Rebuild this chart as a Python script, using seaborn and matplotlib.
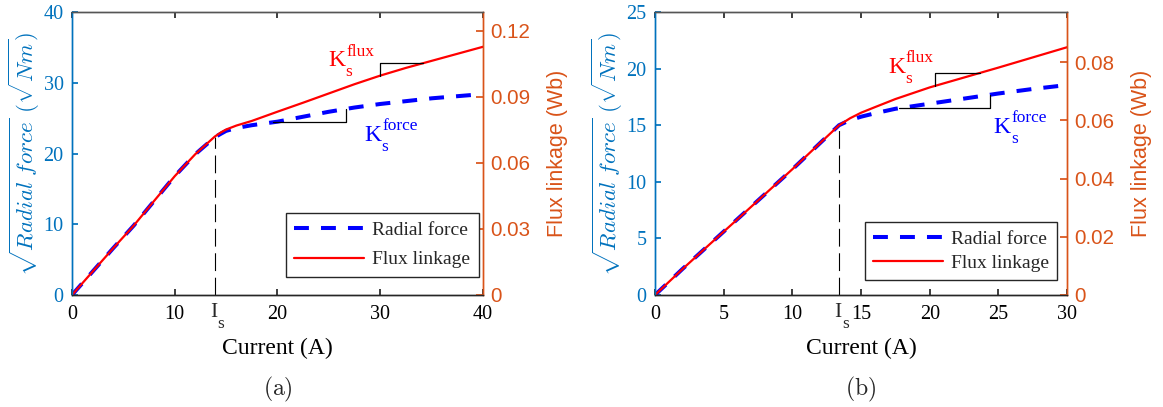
import numpy as np
import pandas as pd
import matplotlib
matplotlib.use("Agg")
import matplotlib.pyplot as plt
import seaborn as sns

# ---- data: panel (a) ----
current_a = [0, 2, 4, 6, 8, 10, 12, 13.9, 14.5, 15, 16, 17.5, 20, 22.5, 25, 27.5, 30,
             32.5, 35, 37.5, 40]
force_a = [0, 3.3, 6.6, 9.8, 13.3, 16.8, 19.9, 22.3, 22.8, 23.2, 23.6, 24.0, 24.5, 25.2,
           25.9, 26.5, 27.0, 27.4, 27.8, 28.1, 28.4]
flux_a = [0, 0.0106, 0.0212, 0.0315, 0.0428, 0.0540, 0.0640, 0.0720, 0.0739, 0.0752,
          0.0770, 0.0791, 0.0833, 0.0874, 0.0916, 0.0958, 0.0997, 0.1032, 0.1064,
          0.1096, 0.1128]
is_a = 13.9

# ---- data: panel (b) ----
current_b = [0, 2, 4, 6, 8, 10, 12, 13.4, 14.2, 15, 16, 17.5, 20, 22.5, 25, 27.5, 30]
force_b = [0, 2.3, 4.5, 6.7, 8.9, 11.1, 13.4, 15.0, 15.45, 15.75, 16.05, 16.45, 16.9,
           17.35, 17.8, 18.2, 18.55]
flux_b = [0, 0.0089, 0.0175, 0.0260, 0.0346, 0.0432, 0.0521, 0.0583, 0.0607, 0.0626,
          0.0645, 0.0673, 0.0713, 0.0747, 0.0781, 0.0816, 0.0851]
is_b = 13.4

BLUE_AX = "#0072BD"
ORANGE_AX = "#D95319"

sns.set_theme(style="white")
plt.rcParams["font.family"] = ["Liberation Serif", "DejaVu Serif"]

fig = plt.figure(figsize=(11.63, 4.07), dpi=100)


def slope_label(ax, xy, sup, color):
    """K with subscript s and a superscript name, anchored at the K's right baseline."""
    ax.annotate("K", xy=xy, xytext=(0, 0), textcoords="offset points", ha="right",
                va="baseline", fontsize=17, color=color)
    ax.annotate(sup, xy=xy, xytext=(0.6, 7.8), textcoords="offset points", ha="left",
                va="baseline", fontsize=12.5, color=color)
    ax.annotate("s", xy=xy, xytext=(0.3, -7.2), textcoords="offset points", ha="left",
                va="baseline", fontsize=12.5, color=color)


def draw_panel(rect, cur, force, flux, i_s, xmax, xticks, fmax, ymax_flux, fticks,
               k_flux, k_force, tri_flux, tri_force, legend_anchor, legend_pad, caption):
    ax = fig.add_axes(rect)
    df = pd.DataFrame({"current": cur, "force": force, "flux": flux})

    sns.lineplot(data=df, x="current", y="force", ax=ax, color="blue", lw=2.9,
                 legend=False, label="Radial force")
    force_line = ax.lines[-1]
    force_line.set_dashes([3.7, 3.0])

    # saturation current marker
    f_is = np.interp(i_s, cur, force)
    ax.plot([i_s, i_s], [0, f_is], color="black", lw=0.8, dashes=[16, 6])

    # slope triangle under the force curve
    x0, x1 = tri_force
    yf0, yf1 = np.interp(x0, cur, force), np.interp(x1, cur, force)
    ax.plot([x0, x1, x1], [yf0, yf0, yf1], color="black", lw=0.9)

    ax.set_xlim(0, xmax)
    ax.set_ylim(0, fmax)
    ax.set_xticks(xticks)
    ax.tick_params(axis="x", direction="in", top=True, bottom=True, length=4,
                   labelsize=14.5, pad=7, colors="#262626", labelcolor="black")
    ax.tick_params(axis="y", direction="in", left=True, right=True, length=4,
                   labelsize=14.5, pad=6, colors=BLUE_AX)
    ax.set_xlabel("Current (A)", fontsize=17, color="black", labelpad=10)
    ax.set_ylabel(r"$\sqrt{Radial\ force}\ (\sqrt{Nm})$", fontsize=16.5,
                  color=BLUE_AX, math_fontfamily="cm", labelpad=1)

    ax2 = ax.twinx()
    sns.lineplot(data=df, x="current", y="flux", ax=ax2, color="red", lw=1.6,
                 legend=False, label="Flux linkage")
    flux_line = ax2.lines[-1]
    ax2.set_ylim(0, ymax_flux)
    flabels = ["0" if v == 0 else f"{v:.2f}" for v in fticks]
    ax2.set_yticks(fticks, labels=flabels, fontfamily="Liberation Sans", fontsize=14.8)
    ax2.tick_params(axis="y", direction="in", right=True, length=5, pad=5,
                    colors=ORANGE_AX)
    ax2.set_ylabel("Flux linkage (Wb)", fontsize=15.5, color=ORANGE_AX,
                   fontfamily="Liberation Sans", labelpad=12)

    # slope triangle above the flux curve
    x0, x1 = tri_flux
    yl0 = np.interp(x0, cur, flux)
    yl1 = np.interp(x1, cur, flux)
    ax2.plot([x0, x0, x1], [yl0, yl1, yl1], color="black", lw=0.9)

    # spine colours
    for a in (ax, ax2):
        a.spines["left"].set_color(BLUE_AX)
        a.spines["right"].set_color(ORANGE_AX)
        a.spines["top"].set_color("#555555")
        a.spines["bottom"].set_color("#262626")
        for s in a.spines.values():
            s.set_linewidth(1.0)
    ax2.set_xlabel("")

    # slope labels
    slope_label(ax, k_flux, "flux", "red")
    slope_label(ax, k_force, "force", "blue")

    # saturation current label
    ax.annotate("I", xy=(i_s, 0), xycoords=("data", "axes fraction"),
                xytext=(-0.7, -16), textcoords="offset points", ha="center",
                va="baseline", fontsize=15.5, annotation_clip=False)
    ax.annotate("s", xy=(i_s, 0), xycoords=("data", "axes fraction"),
                xytext=(2.0, -23.5), textcoords="offset points", ha="left",
                va="baseline", fontsize=12.5, annotation_clip=False)

    bp, ls = legend_pad
    ax2.legend([force_line, flux_line], ["Radial force", "Flux linkage"],
               loc="lower right", bbox_to_anchor=legend_anchor, fontsize=14,
               handlelength=3.6, frameon=True, fancybox=False, edgecolor="#262626",
               framealpha=1, borderpad=bp, labelspacing=ls, handletextpad=0.4,
               borderaxespad=0)

    fig.text(rect[0] + rect[2] / 2, 0.042, r"$\mathrm{(" + caption + r")}$",
             ha="center", va="center", fontsize=17, math_fontfamily="cm")
    return ax, ax2


draw_panel([0.0619, 0.2752, 0.3534, 0.6953], current_a, force_a, flux_a, is_a,
           40, [0, 10, 20, 30, 40], 40, 0.1286, [0, 0.03, 0.06, 0.09, 0.12],
           (26.6, 32.3), (30.1, 21.8), (30.0, 34.2), (19.6, 26.7),
           (0.99, 0.063), (0.45, 0.6), "a")

draw_panel([0.5632, 0.2752, 0.3543, 0.6953], current_b, force_b, flux_b, is_b,
           30, [0, 5, 10, 15, 20, 25, 30], 25, 0.0972, [0, 0.02, 0.04, 0.06, 0.08],
           (18.2, 19.6), (25.9, 14.3), (20.4, 23.67), (17.8, 24.4),
           (0.975, 0.053), (0.4, 0.35), "b")

fig.savefig("out.png", dpi=100)
